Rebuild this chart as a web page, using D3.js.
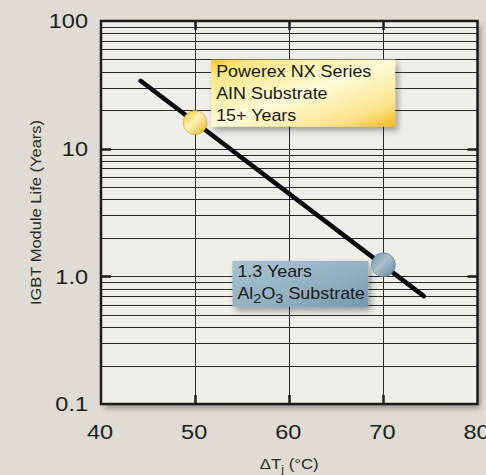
<!DOCTYPE html>
<meta charset="utf-8">
<style>
body { margin: 0; background: #dfddd3; }
svg { font-family: "Liberation Sans", Arial, Helvetica, sans-serif; }
.grid line { stroke: #2b2b2b; stroke-width: 1; }
.tick-mark { stroke: #1c1c1c; stroke-width: 2.5; }
.tick-label { fill: #1e1e1e; font-size: 21px; }
.axis-title { fill: #2a2a2a; font-size: 15px; }
.life-line { stroke: #050505; stroke-width: 4.5; stroke-linecap: round; fill: none; }
.callout-text { fill: #1a1a1a; font-size: 16px; }
</style>
<body>
<script src="https://d3js.org/d3.v7.min.js"></script>
<script>

var xTicks = [40, 50, 60, 70, 80];
var yTicks = [0.1, 1, 10, 100];
var yTickLabels = ["0.1", "1.0", "10", "100"];
var decades = [0.1, 1, 10];
var minorSteps = [2, 3, 4, 5, 6, 7, 8, 9];

// life curve end points (deltaTj, years)
var lineTemps = [44.2, 74.3];
var lineLife = [34, 0.7];

// highlighted points
var markerTemps = [50, 70];
var markerLife = [16, 1.23];

var yellowText = ["Powerex NX Series", "AIN Substrate", "15+ Years"];
var blueText = ["1.3 Years", "Al|2|O|3| Substrate"];

var width = 486, height = 475,
    plotL = 101, plotR = 477.5, plotT = 21, plotB = 404,
    stretch = 1.12;

var x = d3.scaleLinear().domain([40, 80]).range([plotL, plotR]);
var y = d3.scaleLog().domain([0.1, 100]).range([plotB, plotT]);

var svg = d3.select("body").append("svg")
    .attr("width", width)
    .attr("height", height);

var defs = svg.append("defs");

var shadow = defs.append("filter").attr("id", "shadow")
    .attr("x", "-10%").attr("y", "-10%").attr("width", "130%").attr("height", "130%");
shadow.append("feDropShadow")
    .attr("dx", 3).attr("dy", 4).attr("stdDeviation", 3)
    .attr("flood-color", "#000").attr("flood-opacity", 0.35);

function gradient(id, stops) {
    var g = defs.append("linearGradient").attr("id", id)
        .attr("x1", 0).attr("y1", 0).attr("x2", 1).attr("y2", 1);
    stops.forEach(function(s) {
        g.append("stop").attr("offset", s[0]).attr("stop-color", s[1]);
    });
}
gradient("yellowBox", [["0%", "#f5c535"], ["12%", "#fde585"], ["50%", "#fffbd8"], ["82%", "#fde48c"], ["100%", "#f2b81e"]]);
gradient("blueBox", [["0%", "#a9c2cf"], ["55%", "#94b1c1"], ["100%", "#7598ac"]]);
gradient("yellowDot", [["0%", "#f3c225"], ["45%", "#fff2b8"], ["100%", "#e6ad10"]]);
gradient("blueDot", [["0%", "#6b93a8"], ["45%", "#a9c1cd"], ["100%", "#5a8399"]]);

// plot background
svg.append("rect")
    .attr("x", plotL).attr("y", plotT)
    .attr("width", plotR - plotL).attr("height", plotB - plotT)
    .attr("fill", "#efefea")
    .attr("filter", "url(#shadow)");

var grid = svg.append("g").attr("class", "grid");

var minorVals = [];
decades.forEach(function(d) {
    minorSteps.forEach(function(k) { minorVals.push(d * k); });
});
minorVals = minorVals.concat([1, 10]);

grid.selectAll(".h")
    .data(minorVals).enter()
    .append("line")
    .attr("x1", plotL).attr("x2", plotR)
    .attr("y1", function(d) { return Math.round(y(d)) + 0.5; })
    .attr("y2", function(d) { return Math.round(y(d)) + 0.5; });

grid.selectAll(".v")
    .data(xTicks.slice(1, -1)).enter()
    .append("line")
    .attr("y1", plotT).attr("y2", plotB)
    .attr("x1", function(d) { return Math.round(x(d)) + 0.5; })
    .attr("x2", function(d) { return Math.round(x(d)) + 0.5; });

// major tick marks
var ticks = svg.append("g");
xTicks.slice(1, -1).forEach(function(d) {
    var xx = Math.round(x(d)) + 0.5;
    ticks.append("line").attr("class", "tick-mark")
        .attr("x1", xx).attr("x2", xx).attr("y1", plotT).attr("y2", plotT + 9);
    ticks.append("line").attr("class", "tick-mark")
        .attr("x1", xx).attr("x2", xx).attr("y1", plotB).attr("y2", plotB - 9);
});
yTicks.slice(1, -1).forEach(function(d) {
    var yy = Math.round(y(d)) + 0.5;
    ticks.append("line").attr("class", "tick-mark")
        .attr("x1", plotL).attr("x2", plotL + 10).attr("y1", yy).attr("y2", yy);
    ticks.append("line").attr("class", "tick-mark")
        .attr("x1", plotR).attr("x2", plotR - 10).attr("y1", yy).attr("y2", yy);
});

// frame
svg.append("rect")
    .attr("x", plotL).attr("y", plotT)
    .attr("width", plotR - plotL).attr("height", plotB - plotT)
    .attr("fill", "none")
    .attr("stroke", "#1c1c1c")
    .attr("stroke-width", 2.5);

// tick labels
svg.selectAll(".ylab")
    .data(yTicks).enter()
    .append("text")
    .attr("class", "tick-label")
    .attr("text-anchor", "end")
    .attr("dy", "0.35em")
    .attr("transform", function(d) { return "translate(88," + y(d) + ") scale(" + stretch + ",1)"; })
    .text(function(d, i) { return yTickLabels[i]; });

svg.selectAll(".xlab")
    .data(xTicks).enter()
    .append("text")
    .attr("class", "tick-label")
    .attr("text-anchor", "middle")
    .attr("transform", function(d) { return "translate(" + (x(d) - 1) + ",439) scale(" + stretch + ",1)"; })
    .text(function(d) { return d; });

// axis titles
svg.append("text")
    .attr("class", "axis-title")
    .attr("text-anchor", "middle")
    .attr("font-size", 15.5)
    .attr("transform", "translate(40.5," + ((plotT + plotB) / 2) + ") rotate(-90) scale(1.1,1)")
    .text("IGBT Module Life (Years)");

var xt = svg.append("text")
    .attr("class", "axis-title")
    .attr("text-anchor", "middle")
    .attr("transform", "translate(" + ((plotL + plotR) / 2) + ",469) scale(" + stretch + ",1)");
xt.append("tspan").text("\u0394T");
xt.append("tspan").attr("dy", 4).attr("font-size", 11).text("j");
xt.append("tspan").attr("dy", -4).text(" (\u00b0C)");

// life line
var line = d3.line()
    .x(function(d) { return x(d[0]); })
    .y(function(d) { return y(d[1]); });

svg.append("path")
    .datum(d3.zip(lineTemps, lineLife))
    .attr("class", "life-line")
    .attr("d", line);

// callouts
function callout(bx, by, bw, bh, fill, lines, tx, ty, lh) {
    var g = svg.append("g");
    g.append("rect")
        .attr("x", bx).attr("y", by).attr("width", bw).attr("height", bh)
        .attr("fill", fill)
        .attr("filter", "url(#shadow)");
    lines.forEach(function(l, i) {
        var t = g.append("text").attr("class", "callout-text")
            .attr("transform", "translate(" + tx + "," + (ty + i * lh) + ") scale(" + stretch + ",1)");
        var parts = l.split("|");
        parts.forEach(function(p, j) {
            if (!p) return;
            var s = t.append("tspan").text(p);
            if (j % 2 === 1) s.attr("font-size", 13).attr("dy", 4);
            else if (j > 0) s.attr("dy", -4);
        });
    });
}

var p0 = [x(markerTemps[0]), y(markerLife[0])];
var p1 = [x(markerTemps[1]), y(markerLife[1])];

callout(p0[0] + 16, p0[1] - 63, 184, 67, "url(#yellowBox)", yellowText, p0[0] + 21, p0[1] - 46, 22);
callout(p1[0] - 151, p1[1] - 4, 136, 46, "url(#blueBox)", blueText, p1[0] - 146, p1[1] + 12, 22.5);

// markers
svg.selectAll(".marker")
    .data(d3.zip(markerTemps, markerLife)).enter()
    .append("circle")
    .attr("cx", function(d) { return x(d[0]); })
    .attr("cy", function(d) { return y(d[1]); })
    .attr("r", 12)
    .attr("fill", function(d, i) { return i === 0 ? "url(#yellowDot)" : "url(#blueDot)"; })
    .attr("stroke", function(d, i) { return i === 0 ? "#c99a10" : "#4f7488"; })
    .attr("stroke-width", 0.6);

</script>
